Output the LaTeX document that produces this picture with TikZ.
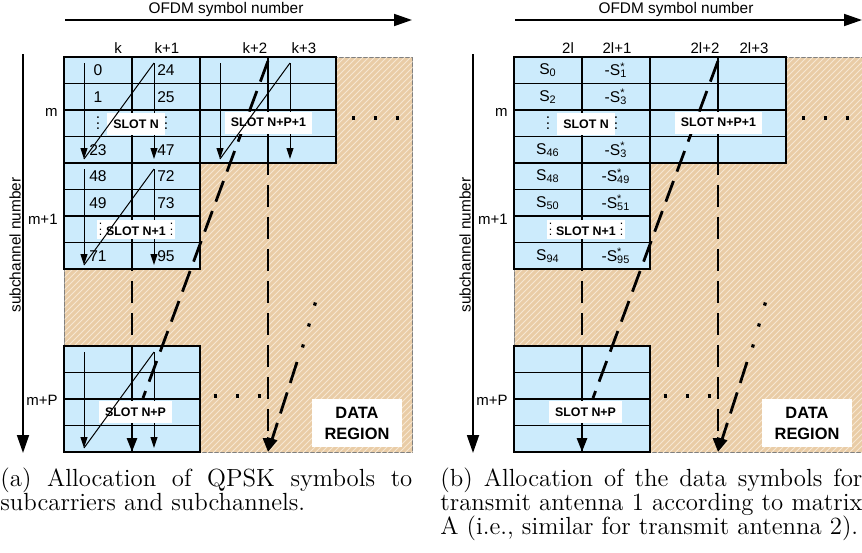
\documentclass[tikz,border=0pt]{standalone}
\usepackage{fontspec}
\usepackage{tikz}
\usetikzlibrary{arrows.meta,positioning,patterns}
\newfontfamily\arialfont{Liberation Sans}
\definecolor{slotblue}{RGB}{204,235,252}
\definecolor{datatan}{RGB}{233,204,166}
\definecolor{hatchline}{RGB}{246,231,210}
\newcommand{\vdts}{\vbox{\baselineskip=2.6pt\lineskiplimit=-2pt\hbox{.}\hbox{.}\hbox{.}}}
\newcommand{\cS}[1]{S\textsubscript{#1}}
\newcommand{\cmS}[1]{-S\rlap{\textsuperscript{*}}\textsubscript{#1}}

\begin{document}
\begin{tikzpicture}[x=0.5pt,y=-0.5pt,
cell/.style={rectangle,draw,line width=0.7pt,fill=slotblue,inner sep=0pt,outer sep=0pt,minimum width=34pt,minimum height=13.25pt,font=\arialfont\fontsize{7.8}{8}\selectfont},
slotedge/.style={line width=1.4pt},
dataregion/.style={rectangle,draw=gray,line width=0.5pt,fill=datatan,postaction={pattern=north east lines,pattern color=hatchline},inner sep=0pt,minimum width=174pt,minimum height=197.5pt},
axisarrow/.style={line width=0.9pt,-{Triangle[length=9pt,width=6pt]}},
axlbl/.style={font=\arialfont\fontsize{7.7}{9}\selectfont,inner sep=0pt},
lbl/.style={font=\arialfont\fontsize{7.5}{9}\selectfont,inner sep=0pt},
slotlbl/.style={fill=white,inner xsep=3pt,inner ysep=0pt,minimum height=11pt,font=\arialfont\bfseries\fontsize{6.2}{7}\selectfont},
datalbl/.style={fill=white,align=center,inner sep=0pt,minimum width=45pt,minimum height=24pt,font=\arialfont\bfseries\fontsize{8.2}{10.5}\selectfont},
paths/.style={line width=0.5pt,-{Triangle[length=5.5pt,width=3.5pt]}},
diag/.style={line width=0.5pt},
dpaths/.style={line width=1.4pt,dash pattern=on 11pt off 5pt,-{Triangle[length=7pt,width=5pt]}},
dline/.style={line width=1.4pt,dash pattern=on 11pt off 5pt},
dotrow/.style={line width=1.6pt,dash pattern=on 1.6pt off 9.4pt},
dotdiag/.style={line width=1.6pt,dash pattern=on 1.6pt off 9.3pt},
capt/.style={text width=206pt,align=justify,inner sep=0pt,anchor=north west,font=\fontsize{12.4}{12}\selectfont}
]
\useasboundingbox (0,0) rectangle (862,552);

% region, axes and labels
\foreach \p/\dx/\ka/\kb/\kc/\kd in {a/0/k/k+1/k+2/k+3, b/450/2l/2l+1/2l+2/2l+3}
{
\node [dataregion,anchor=north west] (\p-data) at (64+\dx,57) {};
\coordinate (\p-h0) at (65+\dx,20);
\coordinate (\p-h1) at (412+\dx,20);
\draw [axisarrow] (\p-h0) -- (\p-h1);
\node [axlbl] (\p-ofdm) at (226+\dx,10) {OFDM symbol number};
\coordinate (\p-v0) at (23+\dx,54);
\coordinate (\p-v1) at (23+\dx,453);
\draw [axisarrow] (\p-v0) -- (\p-v1);
\node [axlbl,rotate=90] (\p-sub) at (15+\dx,245) {subchannel number};
\node [lbl,anchor=east] (\p-m) at (58+\dx,112) {m};
\node [lbl,anchor=east] (\p-m1) at (58+\dx,219) {m+1};
\node [lbl,anchor=east] (\p-mP) at (58+\dx,400) {m+P};
\node [lbl] (\p-k0) at (118+\dx,48) {\ka};
\node [lbl] (\p-k1) at (167+\dx,48) {\kb};
\node [lbl] (\p-k2) at (255+\dx,48) {\kc};
\node [lbl] (\p-k3) at (304+\dx,48) {\kd};
}

% slot N and N+1, left
\foreach \r/\u/\v in {1/0/24, 2/1/25, 3/\vdts/\vdts, 4/23/47}
{
\node [cell] (a-N-\r1) at (98,43.75+26.5*\r) {\u};
\node [cell] (a-N-\r2) [right=0pt of a-N-\r1] {\v};
}
\foreach \r/\u/\v in {1/48/72, 2/49/73, 3//, 4/71/95}
{
\node [cell] (a-Q-\r1) at (98,149.75+26.5*\r) {\u};
\node [cell] (a-Q-\r2) [right=0pt of a-Q-\r1] {\v};
}

% slot N and N+1, right
\foreach \r/\u/\v in {1/\cS{0}/\cmS{1}, 2/\cS{2}/\cmS{3}, 3/\vdts/\vdts, 4/\cS{46}/\cmS{3}}
{
\node [cell] (b-N-\r1) at (548,43.75+26.5*\r) {\u};
\node [cell] (b-N-\r2) [right=0pt of b-N-\r1] {\v};
}
\foreach \r/\u/\v in {1/\cS{48}/\cmS{49}, 2/\cS{50}/\cmS{51}, 3//, 4/\cS{94}/\cmS{95}}
{
\node [cell] (b-Q-\r1) at (548,149.75+26.5*\r) {\u};
\node [cell] (b-Q-\r2) [right=0pt of b-Q-\r1] {\v};
}

% slot N+P+1 and N+P
\foreach \p/\dx in {a/0,b/450}
{
\foreach \r in {1,...,4}
{
\node [cell] (\p-R-\r1) at (234+\dx,43.75+26.5*\r) {};
\node [cell] (\p-R-\r2) [right=0pt of \p-R-\r1] {};
\node [cell] (\p-P-\r1) at (98+\dx,332.75+26.5*\r) {};
\node [cell] (\p-P-\r2) [right=0pt of \p-P-\r1] {};
}
\foreach \s in {N,Q,R,P}
{
\draw [slotedge] (\p-\s-11.north west) rectangle (\p-\s-42.south east);
}
}

% symbol order inside the slots
\foreach \s in {N,Q,P,R}
{
\coordinate (a-\s-t1) at ([xshift=10pt,yshift=-3pt]a-\s-11.north west);
\coordinate (a-\s-b1) at ([xshift=10pt,yshift=2pt]a-\s-41.south west);
\coordinate (a-\s-t2) at ([xshift=11pt,yshift=-3pt]a-\s-12.north west);
\coordinate (a-\s-b2) at ([xshift=11pt,yshift=2pt]a-\s-42.south west);
\draw [paths] (a-\s-t1) to (a-\s-b1);
\draw [paths] (a-\s-t2) to (a-\s-b2);
}

% slot order
\foreach \p/\dx in {a/0,b/450}
{
\draw [dpaths] (\p-N-12.north west) -- (\p-P-42.south west);
\draw [dpaths] (\p-R-12.north west) -- (\p-R-12.north west |- \p-P-42.south);
\coordinate (\p-s0) at ([yshift=-2pt]\p-R-12.north west);
\coordinate (\p-s1) at (143+\dx,398);
\draw [dline] (\p-s0) -- (\p-s1);
\coordinate (\p-s2) at (297+\dx,362);
\draw [dpaths] (\p-s2) -- (\p-R-12.north west |- \p-P-42.south);
\coordinate (\p-d0) at (351.5+\dx,118);
\coordinate (\p-d1) at (399+\dx,118);
\draw [dotrow] (\p-d0) -- (\p-d1);
\coordinate (\p-d2) at (213.5+\dx,396);
\coordinate (\p-d3) at (261+\dx,396);
\draw [dotrow] (\p-d2) -- (\p-d3);
\coordinate (\p-d4) at (315.4+\dx,302.5);
\coordinate (\p-d5) at (302.5+\dx,347.5);
\draw [dotdiag] (\p-d4) -- (\p-d5);
\node [slotlbl] (\p-lblN) at (136+\dx,124) {SLOT N};
\node [slotlbl] (\p-lblR) at (268.5+\dx,122.5) {SLOT N+P+1};
\node [slotlbl,inner xsep=1pt,minimum height=9.5pt] (\p-lblQ) at (136+\dx,229.5) {{\mdseries\vdts}\hspace{2pt}SLOT N+1\hspace{2pt}{\mdseries\vdts}};
\node [slotlbl] (\p-lblP) at (135.5+\dx,412) {SLOT N+P};
\node [datalbl] (\p-lblD) at (357+\dx,423) {DATA\\REGION};
}

\foreach \s in {N,Q,P,R}
{
\draw [diag] (a-\s-b1) to (a-\s-t2);
}

\node [capt] (capA) at (0,467) {(a) Allocation of QPSK symbols to\linebreak subcarriers and subchannels.};
\node [capt,text width=211pt] (capB) at (440,467) {(b) Allocation of the data symbols for\linebreak transmit antenna 1 according to matrix\linebreak A (i.e., similar for transmit antenna 2).};
\end{tikzpicture}
\end{document}
